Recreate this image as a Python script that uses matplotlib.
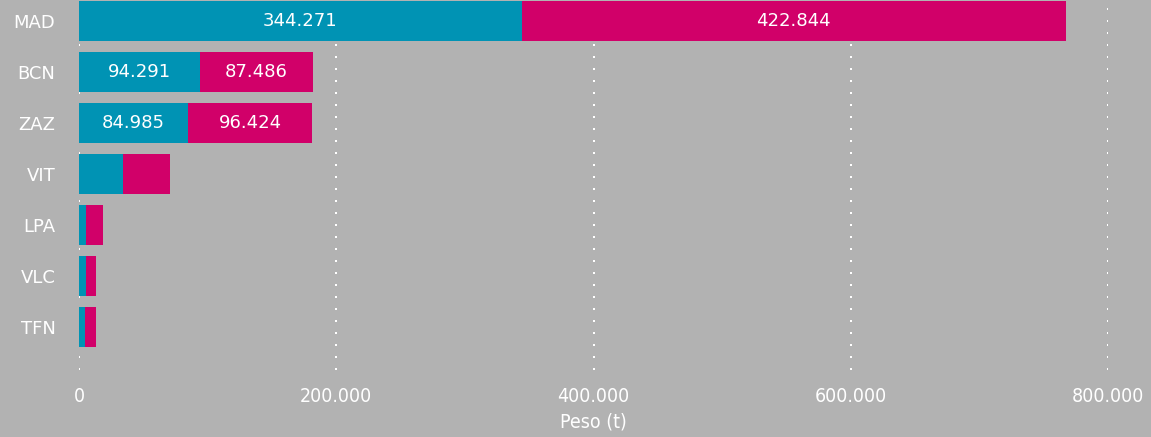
import numpy as np
import matplotlib.pyplot as plt

# data
airports = ["MAD", "BCN", "ZAZ", "VIT", "LPA", "VLC", "TFN"]
cyanVals = [344271, 94291, 84985, 34400, 5400, 5400, 4700]
pinkVals = [422844, 87486, 96424, 36300, 13200, 7800, 8500]
xTicks = [0, 200000, 400000, 600000, 800000]
xTickLabels = ["0", "200.000", "400.000", "600.000", "800.000"]

bgColor = "#b2b2b2"
cyan = "#0093b4"
pink = "#d10069"

# format numbers with a dot as thousands separator
def fmt(v):
    return f"{v:,}".replace(",", ".")

fig = plt.figure(figsize=(11.51, 4.37), dpi=100, facecolor=bgColor)
ax = fig.add_axes([79 / 1151, 1 - 370 / 437, 1029 / 1151, 370 / 437])
ax.set_facecolor(bgColor)

ypos = np.arange(len(airports))
ax.barh(ypos, cyanVals, height=0.78, color=cyan, zorder=2)
ax.barh(ypos, pinkVals, left=cyanVals, height=0.78, color=pink, zorder=2)

# values inside the big segments only
for y, c, p in zip(ypos, cyanVals, pinkVals):
    if c > 50000:
        ax.text(c / 2, y, fmt(c), ha="center", va="center", color="white",
                fontsize=13, zorder=3)
    if p > 50000:
        ax.text(c + p / 2, y, fmt(p), ha="center", va="center", color="white",
                fontsize=13, zorder=3)

ax.set_xlim(0, 800000)
ax.set_ylim(6.84, -0.41)
ax.set_yticks(ypos)
ax.set_yticklabels(airports, fontsize=13, color="white")
ax.set_xticks(xTicks)
ax.set_xticklabels(xTickLabels, fontsize=14, color="white", fontstretch="condensed")
ax.tick_params(length=0, pad=12)
ax.tick_params(axis="y", pad=17)
ax.set_xlabel("Peso (t)", fontsize=14, color="white", fontstretch="condensed", labelpad=5)

ax.grid(axis="x", color="white", linewidth=1.44, linestyle=(0, (1, 5)), zorder=1)
ax.grid(axis="y", visible=False)
for s in ax.spines.values():
    s.set_visible(False)

fig.savefig("out.png", dpi=100, facecolor=bgColor)
